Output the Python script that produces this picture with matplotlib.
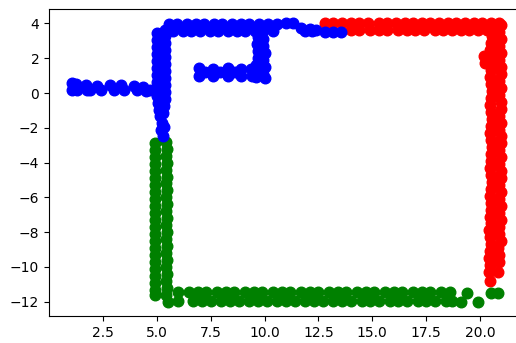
import matplotlib
matplotlib.use("Agg")
import matplotlib.pyplot as plt

# ---------------- data ----------------
red_x = [12.8, 13.2, 13.6, 14.0, 14.4, 14.8, 15.3, 15.7, 16.1, 16.5, 16.9, 17.3, 17.7, 18.1,
         18.5, 18.9, 19.3, 19.7, 20.1, 20.5, 20.9,
         14.0, 14.4, 14.9, 15.3, 15.7, 16.2, 16.6, 17.0, 17.4, 17.9, 18.3, 18.7, 19.1, 19.5,
         19.9, 20.3,
         20.5, 20.55, 20.5, 20.45, 20.2, 20.25, 20.5, 20.45, 20.5, 20.55, 20.5, 20.45, 20.5,
         20.55, 20.5, 20.45, 20.5, 20.55, 20.5, 20.5, 20.45, 20.5, 20.55, 20.5, 20.45, 20.5,
         20.5, 20.45, 20.5, 20.4, 20.45, 20.5, 20.45, 20.4, 20.45, 20.4, 20.45,
         20.55, 20.55,
         20.95, 20.9, 20.95, 20.9, 20.95, 20.9, 20.95, 20.95, 20.9, 20.95, 20.9, 20.95, 20.95,
         20.9, 20.95, 20.9, 20.95, 20.95, 20.9, 20.95, 20.9, 20.95, 20.95, 20.9, 20.95, 20.9,
         20.95, 20.9, 20.95, 20.9, 20.9, 20.95, 20.85, 20.9, 20.9, 20.85]
red_y = [4.0, 4.0, 4.0, 4.0, 4.0, 4.0, 4.0, 4.0, 4.0, 4.0, 4.0, 4.0, 4.0, 4.0,
         4.0, 4.0, 4.0, 4.0, 4.0, 4.0, 4.0,
         3.6, 3.6, 3.6, 3.6, 3.6, 3.6, 3.6, 3.6, 3.6, 3.6, 3.6, 3.6, 3.6, 3.6,
         3.6, 3.6,
         3.7, 3.3, 2.9, 2.5, 2.1, 1.7, 1.3, 0.9, 0.5, 0.1, -0.3, -0.7, -1.1,
         -1.5, -1.9, -2.3, -2.7, -3.1, -3.5, -3.9, -4.3, -4.7, -5.1, -5.5, -5.9, -6.3,
         -6.7, -7.1, -7.5, -7.9, -8.3, -8.7, -9.1, -9.5, -9.9, -10.3, -10.8,
         2.1, 1.7,
         3.9, 3.5, 3.1, 2.7, 2.3, 1.9, 1.5, 1.1, 0.7, 0.3, -0.1, -0.5, -0.9,
         -1.3, -1.7, -2.1, -2.5, -2.9, -3.3, -3.7, -4.1, -4.5, -4.9, -5.3, -5.7, -6.1,
         -6.5, -6.9, -7.3, -7.7, -8.1, -8.5, -8.9, -9.3, -9.7, -10.3]

green_x = [4.9, 4.92, 4.9, 4.92, 4.9, 4.92, 4.9, 4.92, 4.9, 4.92, 4.9, 4.92,
           4.9, 4.92, 4.9, 4.92, 4.9, 4.92, 4.9, 4.92, 4.9, 4.92, 4.9,
           5.45, 5.47, 5.45, 5.47, 5.45, 5.47, 5.45, 5.47, 5.45, 5.47, 5.45, 5.47,
           5.45, 5.47, 5.45, 5.47, 5.45, 5.47, 5.45, 5.47, 5.45, 5.47, 5.45, 5.5,
           6.0, 6.5, 6.9, 7.3, 7.8, 8.2, 8.6, 9.1, 9.5, 9.9, 10.4, 10.8, 11.2, 11.7,
           12.1, 12.5, 13.0, 13.4, 13.8, 14.3, 14.7, 15.1, 15.6, 16.0, 16.4, 16.9, 17.3,
           17.7, 18.2, 18.6,
           6.0, 6.7, 7.1, 7.5, 8.0, 8.4, 8.8, 9.3, 9.7, 10.1, 10.6, 11.0, 11.4, 11.9,
           12.3, 12.7, 13.2, 13.6, 14.0, 14.5, 14.9, 15.3, 15.8, 16.2, 16.6, 17.1, 17.5,
           17.9, 18.4, 18.7,
           19.1, 19.4, 19.9, 20.5, 20.85]
green_y = [-2.9, -3.3, -3.7, -4.1, -4.5, -4.9, -5.3, -5.7, -6.1, -6.5, -6.9, -7.3,
           -7.7, -8.1, -8.5, -8.9, -9.3, -9.7, -10.1, -10.5, -10.9, -11.3, -11.6,
           -2.8, -3.2, -3.6, -4.0, -4.4, -4.8, -5.2, -5.6, -6.0, -6.4, -6.8, -7.2,
           -7.6, -8.0, -8.4, -8.8, -9.2, -9.6, -10.0, -10.4, -10.8, -11.2, -11.6, -12.0,
           -11.45, -11.45, -11.45, -11.45, -11.45, -11.45, -11.45, -11.45, -11.45, -11.45,
           -11.45, -11.45, -11.45, -11.45, -11.45, -11.45, -11.45, -11.45, -11.45, -11.45,
           -11.45, -11.45, -11.45, -11.45, -11.45, -11.45, -11.45, -11.45, -11.45, -11.45,
           -11.95, -11.95, -11.95, -11.95, -11.95, -11.95, -11.95, -11.95, -11.95, -11.95,
           -11.95, -11.95, -11.95, -11.95, -11.95, -11.95, -11.95, -11.95, -11.95, -11.95,
           -11.95, -11.95, -11.95, -11.95, -11.95, -11.95, -11.95, -11.95, -11.95, -11.95,
           -12.0, -11.5, -12.0, -11.5, -11.5]

blue_x = [1.05, 1.25, 1.05, 1.3, 1.7, 1.9, 1.75, 2.25, 2.4, 2.85, 3.0, 3.35, 3.5,
          3.95, 4.1, 4.35, 4.5, 4.7,
          5.0, 5.0, 5.0, 5.0, 5.0, 5.0, 5.0, 5.0, 5.0, 5.0, 5.05, 5.1,
          5.4, 5.4, 5.4, 5.4, 5.4, 5.4, 5.4, 5.4, 5.4, 5.4, 5.4, 5.35, 5.3,
          5.15, 5.25, 5.2, 5.35, 5.3,
          5.55, 5.95, 6.4, 6.8, 7.2, 7.65, 8.05, 8.5, 8.9, 9.3, 9.75, 10.15, 10.6,
          11.0, 11.3, 11.7, 12.1, 12.4, 12.8, 13.2, 13.55,
          5.75, 6.2, 6.6, 7.0, 7.45, 7.85, 8.3, 8.7, 9.1, 9.55, 9.95, 10.4, 11.9, 12.2,
          9.7, 9.95, 9.65, 9.95, 9.7, 10.0, 9.7, 9.95, 9.6, 10.0, 9.55, 9.95, 9.6, 10.0,
          9.35, 9.4,
          6.95, 6.95, 7.25, 7.6, 7.6, 7.95, 8.3, 8.3, 8.65, 8.9, 8.9]
blue_y = [0.55, 0.5, 0.15, 0.15, 0.45, 0.2, 0.15, 0.4, 0.15, 0.45, 0.2, 0.45, 0.15,
          0.4, 0.15, 0.35, 0.1, 0.2,
          3.45, 3.05, 2.65, 2.25, 1.85, 1.45, 1.05, 0.65, 0.25, -0.15, -0.55, -0.95,
          3.65, 3.25, 2.85, 2.45, 2.05, 1.65, 1.25, 0.85, 0.45, 0.05, -0.35, -0.75, -1.15,
          -1.35, -1.75, -2.1, -1.95, -2.45,
          3.95, 3.95, 3.95, 3.95, 3.95, 3.95, 3.95, 3.95, 3.95, 3.95, 3.95, 3.95, 3.95,
          4.05, 4.05, 3.75, 3.7, 3.6, 3.5, 3.5, 3.5,
          3.55, 3.55, 3.55, 3.55, 3.55, 3.55, 3.55, 3.55, 3.55, 3.55, 3.55, 3.55, 3.55, 3.55,
          3.2, 3.1, 2.8, 2.7, 2.4, 2.3, 2.0, 1.9, 1.6, 1.5, 1.2, 1.1, 0.9, 0.85,
          1.4, 1.0,
          1.45, 0.95, 1.2, 1.4, 1.0, 1.2, 1.45, 1.0, 1.2, 1.4, 0.95]

# ---------------- figure ----------------
W, H, DPI = 516, 343, 100
fig = plt.figure(figsize=(W / DPI, H / DPI), dpi=DPI)
left_px, right_px, top_px, bottom_px = 49, 521, 9, 316
ax = fig.add_axes([left_px / W, 1 - bottom_px / H,
                   (right_px - left_px) / W, (bottom_px - top_px) / H])

ms = 58
ax.scatter(red_x, red_y, c="r", s=ms)
ax.scatter(green_x, green_y, c="g", s=ms)
ax.scatter(blue_x, blue_y, c="b", s=ms)

ax.set_xlim(0.0, 21.9)
ax.set_ylim(-12.82, 4.83)
ax.set_xticks([2.5, 5.0, 7.5, 10.0, 12.5, 15.0, 17.5, 20.0])
ax.set_yticks([-12, -10, -8, -6, -4, -2, 0, 2, 4])
ax.tick_params(labelsize=10)

fig.savefig("out.png", dpi=DPI)
